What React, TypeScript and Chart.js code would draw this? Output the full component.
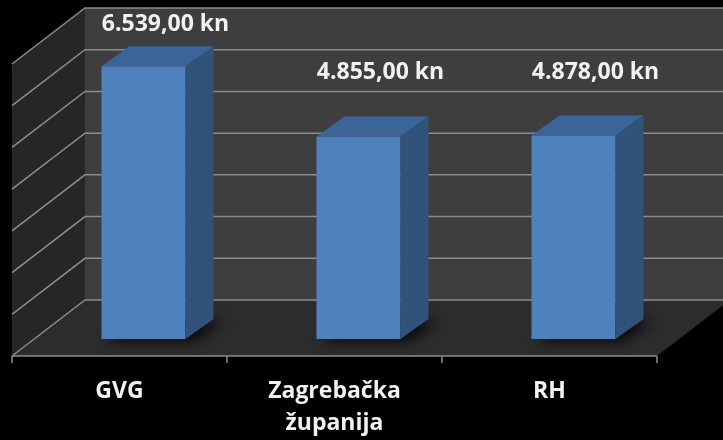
import React, { useEffect, useRef } from "react";
import { Chart, registerables } from "chart.js";

Chart.register(...registerables);

const categories: string[][] = [["GVG"], ["Zagrebačka", "županija"], ["RH"]];
const values: number[] = [6539, 4855, 4878];
const yMax = 7000;
const yStep = 1000;
const gridValues: number[] = [0, 1000, 2000, 3000, 4000, 5000, 6000, 7000];

const FONT = "'Open Sans', 'Noto Sans', sans-serif";

function fmt(v: number): string {
  const [int, dec] = v.toFixed(2).split(".");
  const withDots = int.replace(/\B(?=(\d{3})+(?!\d))/g, ".");
  return `${withDots},${dec} kn`;
}

// 3D geometry offsets relative to the bar front plane
const FX = -24, FY = 17; // front (axis) plane
const BX = 49, BY = -39; // back wall plane
const DX = 28, DY = -20; // bar depth

function poly(ctx: CanvasRenderingContext2D, pts: number[][], color: string) {
  ctx.beginPath();
  ctx.moveTo(pts[0][0], pts[0][1]);
  for (let i = 1; i < pts.length; i++) ctx.lineTo(pts[i][0], pts[i][1]);
  ctx.closePath();
  ctx.fillStyle = color;
  ctx.fill();
}

const depthPlugin = {
  id: "depth3d",
  beforeDatasetsDraw(chart: any) {
    const { ctx, chartArea } = chart;
    const { left: L, right: R, top: T, bottom: B } = chartArea;
    const y = chart.scales.y;
    ctx.save();
    // left wall
    poly(ctx, [[L + FX, T + FY], [L + BX, T + BY], [L + BX, B + BY], [L + FX, B + FY]], "#262626");
    // back wall
    poly(ctx, [[L + BX, T + BY], [R + BX + 20, T + BY], [R + BX + 20, B + BY], [L + BX, B + BY]], "#3e3e3e");
    // floor
    poly(ctx, [[L + FX, B + FY], [R + FX, B + FY], [R + BX, B + BY], [L + BX, B + BY]], "#2c2c2c");
    // gridlines
    ctx.strokeStyle = "#8c8c8c";
    ctx.lineWidth = 1.5;
    for (const v of gridValues) {
      const py = y.getPixelForValue(v);
      ctx.beginPath();
      ctx.moveTo(L + FX, py + FY);
      ctx.lineTo(L + BX, py + BY);
      ctx.lineTo(R + BX + 20, py + BY);
      ctx.stroke();
    }
    // front axis
    ctx.beginPath();
    ctx.moveTo(L + FX, B + FY);
    ctx.lineTo(R + FX, B + FY);
    const n = categories.length;
    for (let i = 0; i <= n; i++) {
      const tx = L + FX + (i * (R - L)) / n;
      ctx.moveTo(tx, B + FY);
      ctx.lineTo(tx, B + FY + 7);
    }
    ctx.stroke();
    // bar shadows
    const meta = chart.getDatasetMeta(0);
    ctx.filter = "blur(6px)";
    for (const bar of meta.data) {
      const p = bar.getProps(["x", "y", "base", "width"], true);
      const x1 = p.x - p.width / 2, x2 = p.x + p.width / 2;
      poly(ctx, [[x1 + 4, p.base + 3], [x2 + 8, p.base + 3], [x2 + DX + 10, p.base + DY + 2], [x1 + DX + 4, p.base + DY + 2]], "rgba(0,0,0,0.75)");
    }
    ctx.filter = "none";
    ctx.restore();
  },
  afterDatasetsDraw(chart: any) {
    const { ctx, chartArea } = chart;
    const { top: T } = chartArea;
    const meta = chart.getDatasetMeta(0);
    ctx.save();
    meta.data.forEach((bar: any, i: number) => {
      const p = bar.getProps(["x", "y", "base", "width"], true);
      const x1 = p.x - p.width / 2, x2 = p.x + p.width / 2;
      // top face
      poly(ctx, [[x1, p.y], [x1 + DX, p.y + DY], [x2 + DX, p.y + DY], [x2, p.y]], "#3b6498");
      // side face
      poly(ctx, [[x2, p.y], [x2 + DX, p.y + DY], [x2 + DX, p.base + DY], [x2, p.base]], "#30527b");
      // value label
      ctx.fillStyle = "#f2f2f2";
      ctx.font = `bold 23px ${FONT}`;
      ctx.textAlign = "center";
      ctx.textBaseline = "alphabetic";
      const by = Math.max(p.y - 57, T - 16);
      ctx.fillText(fmt(values[i]), p.x + 22, by);
    });
    // category labels
    const B = chartArea.bottom;
    ctx.font = `bold 23px ${FONT}`;
    ctx.fillStyle = "#f2f2f2";
    meta.data.forEach((bar: any, i: number) => {
      const p = bar.getProps(["x"], true);
      categories[i].forEach((line, j) => {
        ctx.fillText(line, p.x + FX, B + FY + 42 + j * 32);
      });
    });
    ctx.restore();
  },
};

export default function App() {
  const ref = useRef<HTMLCanvasElement | null>(null);
  useEffect(() => {
    document.body.style.margin = "0";
    document.body.style.background = "#000";
    const canvas = ref.current!;
    const chart = new Chart(canvas, {
      type: "bar",
      data: {
        labels: categories,
        datasets: [
          {
            data: values,
            backgroundColor: "#4f81bd",
            borderWidth: 0,
            categoryPercentage: 84 / 215,
            barPercentage: 1,
          },
        ],
      },
      options: {
        responsive: false,
        animation: false,
        devicePixelRatio: 1,
        layout: { padding: { left: 36, right: 42, top: 47, bottom: 101 } },
        plugins: { legend: { display: false }, tooltip: { enabled: false } },
        scales: {
          x: { display: false },
          y: { display: false, min: 0, max: yMax, ticks: { stepSize: yStep } },
        },
      },
      plugins: [depthPlugin],
    });
    return () => chart.destroy();
  }, []);
  return (
    <div style={{ width: 723, height: 440, background: "#000" }}>
      <canvas ref={ref} width={723} height={440} style={{ display: "block" }} />
    </div>
  );
}
